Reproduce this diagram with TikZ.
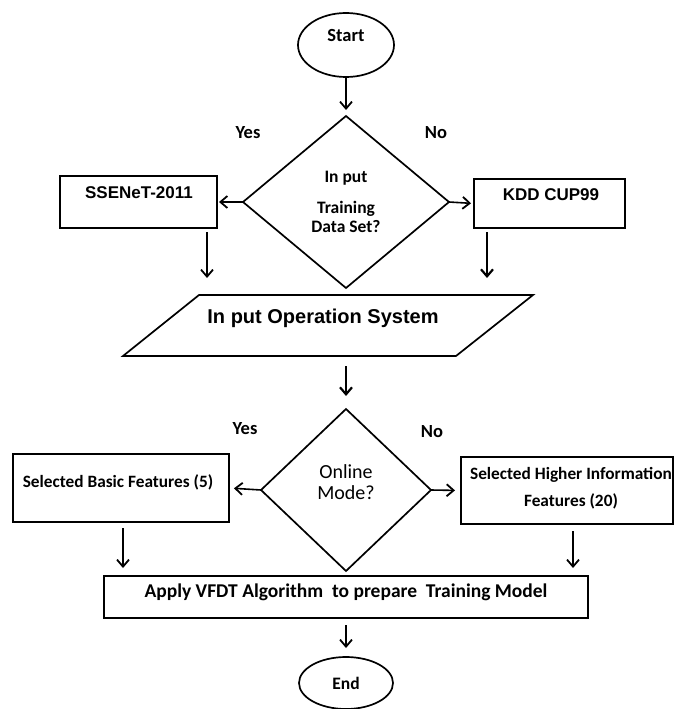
\documentclass[tikz,border=0pt]{standalone}
\usepackage{fontspec}
\setmainfont{Carlito}
\newfontfamily\arialf{Liberation Sans}
\usetikzlibrary{shapes.geometric,arrows.meta}
\begin{document}
\begin{tikzpicture}[x=1pt,y=-1pt,
  every node/.style={inner sep=0pt, outer sep=0pt},
  shp/.style={draw, line width=1.7pt},
  boxr/.style={shp, rectangle},
  arr/.style={line width=1.6pt, -{Straight Barb[length=7pt,width=12pt,line width=1.8pt]}},
  arrthick/.style={line width=2.4pt, -{Straight Barb[length=7pt,width=12pt,line width=2.2pt]}},
  cal/.style={font=\fontsize{#1}{#1}\selectfont\bfseries},
  ari/.style={font=\fontsize{#1}{#1}\arialf\bfseries},
]
\useasboundingbox (0,0) rectangle (675,709);

% Start
\node[shp, ellipse, minimum width=96pt, minimum height=64pt] (start) at (346,45) {};
\node[cal=18.5] (startt) at (346,36) {Start};

% Decision 1
\node[shp, diamond, minimum width=206pt, minimum height=172pt, align=center,
      font=\fontsize{17.5}{19}\selectfont\bfseries] (d1) at (346,202)
      {In put\\[12pt]Training\\Data Set?};
\node[cal=18.5] (yes1) at (248,133) {Yes};
\node[cal=18.5] (no1) at (436,133) {No};

% SSENeT box
\node[boxr, minimum width=157pt, minimum height=52pt] (sse) at (138.5,202) {};
\node[ari=17] (sset) at (139,193) {SSENeT-2011};

% KDD box
\node[boxr, minimum width=151pt, minimum height=49pt] (kdd) at (549.5,203.5) {};
\node[ari=17] (kddt) at (551,195) {KDD CUP99};

% connectors decision 1
\draw[arr, shorten >=6pt] (start.south) -- (d1.north);
\draw[arr, shorten >=2pt] (d1.west) -- (sse.east);
\draw[arr, shorten >=3pt] (d1.east) -- (kdd.west);

\coordinate (sseo) at (207,232);
\coordinate (ssei) at (207,278);
\coordinate (kddo) at (487,232);
\coordinate (kddi) at (487,278);
\draw[arr] (sseo) -- (ssei);
\draw[arrthick] (kddo) -- (kddi);

% Parallelogram
\coordinate (ptl) at (199,295);
\coordinate (ptr) at (533,295);
\coordinate (pbr) at (456,356);
\coordinate (pbl) at (123,356);
\draw[line width=1.7pt, line join=miter] (ptl) -- (ptr) -- (pbr) -- (pbl) -- cycle;
\node[ari=20] (ios) at (323,318) {In put Operation System};

% Decision 2
\coordinate (ioso) at (346,366);
\node[shp, diamond, minimum width=170pt, minimum height=162pt] (d2) at (346,490) {};
\node[font=\fontsize{20}{21}\selectfont, align=center] (d2t) at (346,482) {Online\\Mode?};
\draw[arrthick, shorten >=13pt] (ioso) -- (d2.north);
\node[cal=18.5] (yes2) at (245,429) {Yes};
\node[cal=18.5] (no2) at (432,432) {No};

% Basic box
\node[boxr, minimum width=216pt, minimum height=68pt] (basic) at (121,488) {};
\node[cal=17.3] (basict) at (118,482) {Selected Basic Features (5)};

% Higher box
\node[boxr, minimum width=212pt, minimum height=67pt] (high) at (567,490.5) {};
\node[font=\fontsize{17.3}{27}\selectfont\bfseries, align=center] (hight) at (571,488.5)
      {Selected Higher Information\\Features (20)};

\draw[arr, shorten >=5pt] (d2.west) -- (basic.east);
\draw[arr, shorten >=6pt] (d2.east) -- (high.west);

\coordinate (baso) at (123,528);
\coordinate (basi) at (123,568);
\coordinate (higo) at (573,531);
\coordinate (higi) at (573,568);
\draw[arr] (baso) -- (basi);
\draw[arr] (higo) -- (higi);

% Apply box
\node[boxr, minimum width=484pt, minimum height=42pt] (apply) at (346,597) {};
\node[cal=19.5] (applyt) at (346,592) {Apply VFDT Algorithm\ \ to prepare\ \ Training Model};

% End
\node[shp, ellipse, minimum width=94pt, minimum height=52pt, cal=17.5] (end) at (346,683) {End};
\draw[arr, shorten <=7pt, shorten >=9pt] (apply.south) -- (end.north);
\end{tikzpicture}
\end{document}
